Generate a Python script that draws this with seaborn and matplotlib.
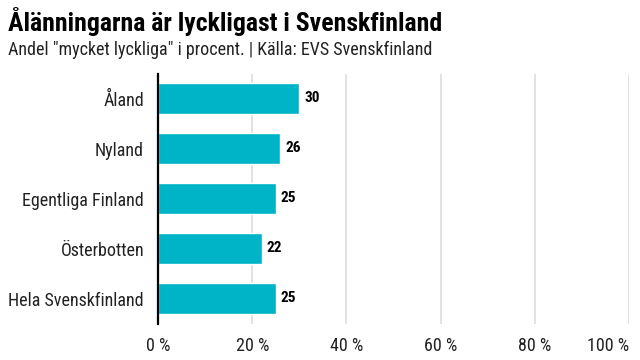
import matplotlib
matplotlib.use("Agg")
import matplotlib.pyplot as plt
from matplotlib import font_manager
import seaborn as sns
import pandas as pd

categories = ["Åland", "Nyland", "Egentliga Finland", "Österbotten", "Hela Svenskfinland"]
values = [30, 26, 25, 22, 25]
xticks = [0, 20, 40, 60, 80, 100]
xtick_labels = ["0 %", "20 %", "40 %", "60 %", "80 %", "100 %"]

sns.set_theme(style="white")
avail = {f.name for f in font_manager.fontManager.ttflist}
fam = next((f for f in ["Liberation Sans Narrow", "Roboto Condensed", "Open Sans", "Roboto"] if f in avail), "DejaVu Sans")
plt.rcParams["font.family"] = [fam, "DejaVu Sans"]

df = pd.DataFrame({"region": categories, "value": values})

fig = plt.figure(figsize=(6.4, 3.6), dpi=100)
ax = fig.add_axes([158/640, 1 - 323.5/360, (629-158)/640, 250/360])
sns.barplot(data=df, x="value", y="region", color="#00B4C8", width=0.62,
            saturation=1, ax=ax, zorder=3)
ax.set_xlim(0, 100)
ax.set_ylim(4.5, -0.5)
ax.set_xticks(xticks)
ax.set_xticklabels(xtick_labels, fontsize=13, color="#222222")
ax.get_xticklabels()[-1].set_horizontalalignment("right")
ax.tick_params(axis="y", labelsize=13, colors="#222222", length=0, pad=10)
ax.tick_params(axis="x", length=0, pad=10)
ax.set_xlabel("")
ax.set_ylabel("")
for x in xticks[1:]:
    ax.axvline(x, color="#dddddd", lw=1.2, zorder=1)
for s in ["top", "right", "bottom"]:
    ax.spines[s].set_visible(False)
ax.spines["left"].set_color("black")
ax.spines["left"].set_linewidth(1.6)
ax.spines["left"].set_zorder(5)
for i, v in enumerate(values):
    ax.text(v + 1, i, f"{v}", va="center", ha="left", fontsize=11,
            fontweight="bold", color="black")

fig.text(8/640, 1 - 21/360, "Ålänningarna är lyckligast i Svenskfinland",
         fontsize=18.5, fontweight="bold", va="center", ha="left", color="black")
fig.text(8/640, 1 - 50/360, 'Andel "mycket lyckliga" i procent. | Källa: EVS Svenskfinland',
         fontsize=13, va="center", ha="left", color="#222222")

fig.savefig("out.png", dpi=100)
